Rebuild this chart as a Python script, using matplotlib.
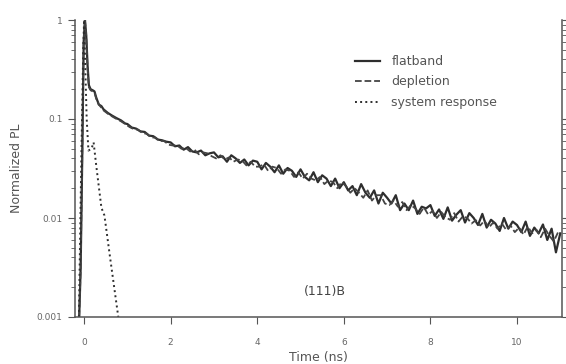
import numpy as np
import matplotlib
matplotlib.use("Agg")
import matplotlib.pyplot as plt
from matplotlib.ticker import LogLocator, FixedLocator, FixedFormatter, NullFormatter

plt.rcParams['font.family'] = ['DejaVu Sans']

# ---- data ----
fb_early_t = [-0.12, -0.08, -0.04, -0.01, 0.02, 0.05, 0.08, 0.11, 0.15, 0.20, 0.24,
              0.28, 0.34, 0.40, 0.45, 0.55, 0.65, 0.75, 0.85, 0.95]
fb_early_v = [0.0008, 0.003, 0.05, 0.6, 1.0, 0.7, 0.35, 0.22, 0.20, 0.195, 0.19,
              0.165, 0.14, 0.135, 0.125, 0.115, 0.108, 0.102, 0.097, 0.090]

fb_late_t = [round(1.0 + 0.1 * i, 2) for i in range(101)]
fb_late_v = [0.089, 0.082, 0.080, 0.075, 0.074, 0.068, 0.067, 0.062, 0.061, 0.059,
             0.058, 0.053, 0.054, 0.049, 0.052, 0.047, 0.046, 0.048, 0.043, 0.045,
             0.046, 0.041, 0.042, 0.037, 0.043, 0.040, 0.036, 0.039, 0.034, 0.038,
             0.037, 0.031, 0.036, 0.033, 0.029, 0.034, 0.028, 0.032, 0.030, 0.026,
             0.031, 0.026, 0.024, 0.029, 0.023, 0.027, 0.025, 0.021, 0.025, 0.020,
             0.023, 0.019, 0.021, 0.017, 0.022, 0.018, 0.016, 0.019, 0.014, 0.018,
             0.016, 0.014, 0.017, 0.012, 0.014, 0.012, 0.015, 0.011, 0.013, 0.0125,
             0.0135, 0.0105, 0.0122, 0.0098, 0.0128, 0.0094, 0.0108, 0.0120, 0.0090, 0.0112,
             0.0100, 0.0085, 0.0110, 0.0080, 0.0096, 0.0088, 0.0074, 0.0100, 0.0078, 0.0092,
             0.0085, 0.0072, 0.0092, 0.0066, 0.0080, 0.0070, 0.0086, 0.0060, 0.0078, 0.0045,
             0.0070]

dp_early_t = [-0.12, -0.08, -0.04, -0.01, 0.02, 0.05, 0.08, 0.11, 0.15, 0.20, 0.24,
              0.28, 0.34, 0.40, 0.45, 0.55, 0.65, 0.75, 0.85, 0.95]
dp_early_v = [0.0008, 0.003, 0.05, 0.6, 1.0, 0.68, 0.33, 0.21, 0.195, 0.19, 0.185,
              0.16, 0.14, 0.13, 0.122, 0.113, 0.106, 0.100, 0.095, 0.089]

dp_late_t = [round(1.05 + 0.1 * i, 2) for i in range(100)]
dp_late_v = [0.083, 0.079, 0.078, 0.072, 0.071, 0.065, 0.065, 0.060, 0.060, 0.055,
             0.054, 0.054, 0.050, 0.051, 0.047, 0.049, 0.044, 0.046, 0.045, 0.042,
             0.040, 0.043, 0.039, 0.041, 0.037, 0.039, 0.038, 0.034, 0.037, 0.033,
             0.033, 0.035, 0.030, 0.033, 0.032, 0.028, 0.031, 0.030, 0.026, 0.029,
             0.025, 0.028, 0.025, 0.024, 0.026, 0.022, 0.024, 0.023, 0.020, 0.023,
             0.021, 0.018, 0.020, 0.018, 0.016, 0.019, 0.015, 0.017, 0.017, 0.014,
             0.0135, 0.015, 0.013, 0.0145, 0.012, 0.0135, 0.0125, 0.011, 0.0128, 0.0108,
             0.0118, 0.0100, 0.0115, 0.0102, 0.0096, 0.0112, 0.0092, 0.0104, 0.0100, 0.0088,
             0.0095, 0.0084, 0.0094, 0.0080, 0.0090, 0.0078, 0.0088, 0.0076, 0.0084, 0.0072,
             0.0080, 0.0068, 0.0082, 0.0070, 0.0076, 0.0064, 0.0078, 0.0066, 0.0058, 0.0072]

sr_t = [-0.12, -0.06, -0.02, 0.0, 0.03, 0.06, 0.10, 0.17, 0.22, 0.28, 0.40, 0.47, 0.60, 0.79]
sr_v = [0.001, 0.05, 0.5, 1.0, 0.3, 0.1, 0.048, 0.05, 0.058, 0.034, 0.0127, 0.0106, 0.004, 0.001]

labels = ["flatband", "depletion", "system response"]
y_ticks = [1, 0.1, 0.01, 0.001]
y_ticklabels = ["1", "0.1", "0.01", "0.001"]
x_ticks = [0, 2, 4, 6, 8, 10]
x_ticklabels = ["0", "2", "4", "6", "8", "10"]

# ---- figure ----
fig = plt.figure(figsize=(5.66, 3.64), dpi=100)
ax = fig.add_axes([75/566, 1-317/364, (562-75)/566, (317-20)/364])

col = '#2e2e2e'
fb_t = fb_early_t + fb_late_t
fb_v = fb_early_v + fb_late_v
dp_t = dp_early_t + dp_late_t
dp_v = dp_early_v + dp_late_v

ax.plot(fb_t, fb_v, '-', color=col, lw=1.6, label=labels[0])
ax.plot(dp_t, dp_v, '--', color='#444444', lw=1.3, label=labels[1])
ax.plot(sr_t, sr_v, ':', color=col, lw=1.4, label=labels[2])

ax.set_yscale('log')
ax.set_ylim(0.001, 1)
ax.set_xlim(-0.21, 11.04)

ax.yaxis.set_major_locator(FixedLocator(y_ticks))
ax.yaxis.set_major_formatter(FixedFormatter(y_ticklabels))
ax.yaxis.set_minor_locator(LogLocator(base=10, subs=np.arange(2, 10)))
ax.yaxis.set_minor_formatter(NullFormatter())
ax.set_xticks(x_ticks)
ax.set_xticklabels(x_ticklabels)

ax.spines['top'].set_visible(False)
for s in ['left', 'right', 'bottom']:
    ax.spines[s].set_color('#555555')
    ax.spines[s].set_linewidth(1.1)
ax.tick_params(axis='y', which='both', left=True, right=True, direction='out',
               colors='#555555', labelcolor='#666666', labelsize=6.5, pad=4)
ax.tick_params(axis='y', which='major', length=5)
ax.tick_params(axis='y', which='minor', length=3)
ax.tick_params(axis='x', which='major', length=5, direction='out', pad=10,
               colors='#555555', labelcolor='#666666', labelsize=6.5)

ax.set_xlabel("Time (ns)", fontsize=9, color='#555555', labelpad=3)
ax.set_ylabel("Normalized PL", fontsize=9, color='#555555', labelpad=10)

ax.text(5.57, 0.0018, "(111)B", fontsize=9, color='#444444', ha='center', va='center')

leg = ax.legend(loc='upper left', bbox_to_anchor=(355/566, 1-55/364),
                bbox_transform=fig.transFigure, frameon=False, fontsize=9,
                handlelength=2.0, handletextpad=0.9, labelspacing=0.6,
                borderpad=0, borderaxespad=0)
for t in leg.get_texts():
    t.set_color('#555555')

fig.savefig("out.png", dpi=100)
